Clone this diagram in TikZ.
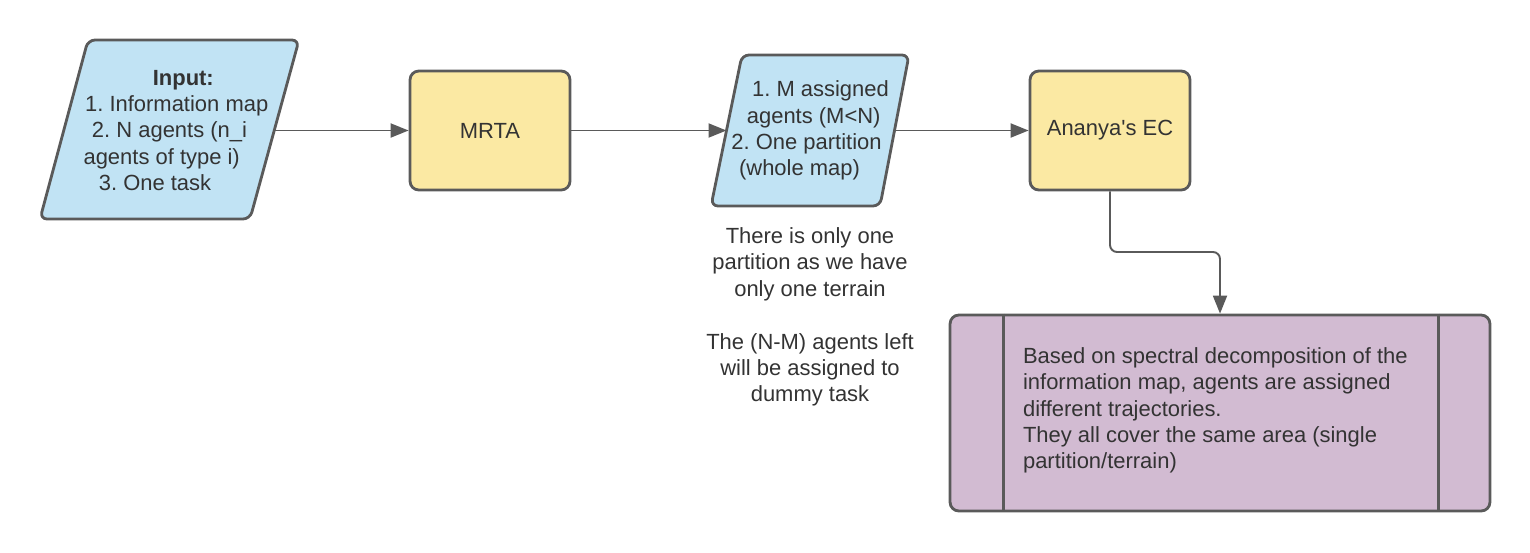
\documentclass[tikz,border=0pt]{standalone}
\usepackage{fontspec}
\setmainfont{Liberation Sans}
\usetikzlibrary{arrows.meta}
\usetikzlibrary{calc}
\frenchspacing

\definecolor{inblue}{HTML}{C1E3F4}
\definecolor{boxyellow}{HTML}{FBE9A3}
\definecolor{procpurple}{HTML}{D2BBD2}
\definecolor{edgegray}{HTML}{5A5A5A}
\definecolor{txt}{HTML}{333333}

% shift one centred line sideways (in px of the reference)
\newcommand{\lineshift}[1]{\hspace*{#1\dimexpr 0.04cm\relax}}

\tikzset{
    base/.style={draw=edgegray, line width=1.6pt, text=txt, font=\fontsize{12.5}{15}\selectfont, align=center},
    iobox/.style={draw=edgegray, line width=1.6pt, fill=inblue, rounded corners=4pt, line join=round},
    stepbox/.style={base, rectangle, fill=boxyellow, rounded corners=5pt, minimum width=3.2cm, minimum height=2.38cm},
    procbox/.style={base, rectangle, fill=procpurple, rounded corners=5pt, minimum width=10.8cm, minimum height=3.92cm, inner sep=0pt},
    arr/.style={draw=edgegray, line width=1.1pt, -{Triangle[length=0.36cm, width=0.28cm]}},
    note/.style={text=txt, font=\fontsize{12.5}{15}\selectfont, align=center}
}

\begin{document}
\begin{tikzpicture}[x=0.02cm, y=-0.02cm]
                    \useasboundingbox (0,0) rectangle (1530,552);

                    % input and output data
                    \draw[iobox] (88,40) -- (299,40) -- (250,219) -- (40,219) -- cycle;
                    \draw[iobox] (742,55) -- (909,55) -- (880,206) -- (711,206) -- cycle;
                    \node[note] (in) at (169.5,130.5)
                        {\lineshift{13.8}\textbf{Input:}\\\lineshift{7.2}1. Information map\\2. N agents (n\_i\\\lineshift{-7.8}agents of type i)\\\lineshift{-14.5}3. One task};
                    \node[note] (assigned) at (810,130.5)
                        {\lineshift{10.5}1. M assigned\\\lineshift{3.7}agents (M<N)\\\lineshift{-3.5}2. One partition\\\lineshift{-10.5}(whole map)};
                    \coordinate (in-r) at (274.5,130.5);
                    \coordinate (assigned-l) at (726.5,130.5);
                    \coordinate (assigned-r) at (894.5,130.5);

                    % process steps
                    \node[stepbox] (mrta) at (490,130.5) {MRTA};
                    \node[stepbox] (ec) at (1110,130.5) {Ananya\textquotesingle s EC};
                    \node[procbox] (proc) at (1220,413) {};
                    \draw[edgegray, line width=1.6pt] ($(proc.north west)+(55,0)$) -- ($(proc.south west)+(55,0)$);
                    \draw[edgegray, line width=1.6pt] ($(proc.north east)+(-53,0)$) -- ($(proc.south east)+(-53,0)$);
                    \node[note, align=left, anchor=west, inner sep=0pt] (proctext) at (1022.7,410.5)
                        {Based on spectral decomposition of the\\information map, agents are assigned\\different trajectories.\\They all cover the same area (single\\partition/terrain)};

                    % remark
                    \node[note] (remark) at (810,317)
                        {There is only one\\partition as we have\\only one terrain\\[15pt]The (N-M) agents left\\will be assigned to\\dummy task};

                    % connectors
                    \coordinate (bend) at (1220,252);
                    \draw[arr] (in-r) -- (mrta.west);
                    \draw[arr] (mrta.east) -- (assigned-l);
                    \draw[arr] (assigned-r) -- (ec.west);
                    \draw[arr, rounded corners=4pt] (ec.south) |- (bend) -- (proc.north);
                \end{tikzpicture}
\end{document}
